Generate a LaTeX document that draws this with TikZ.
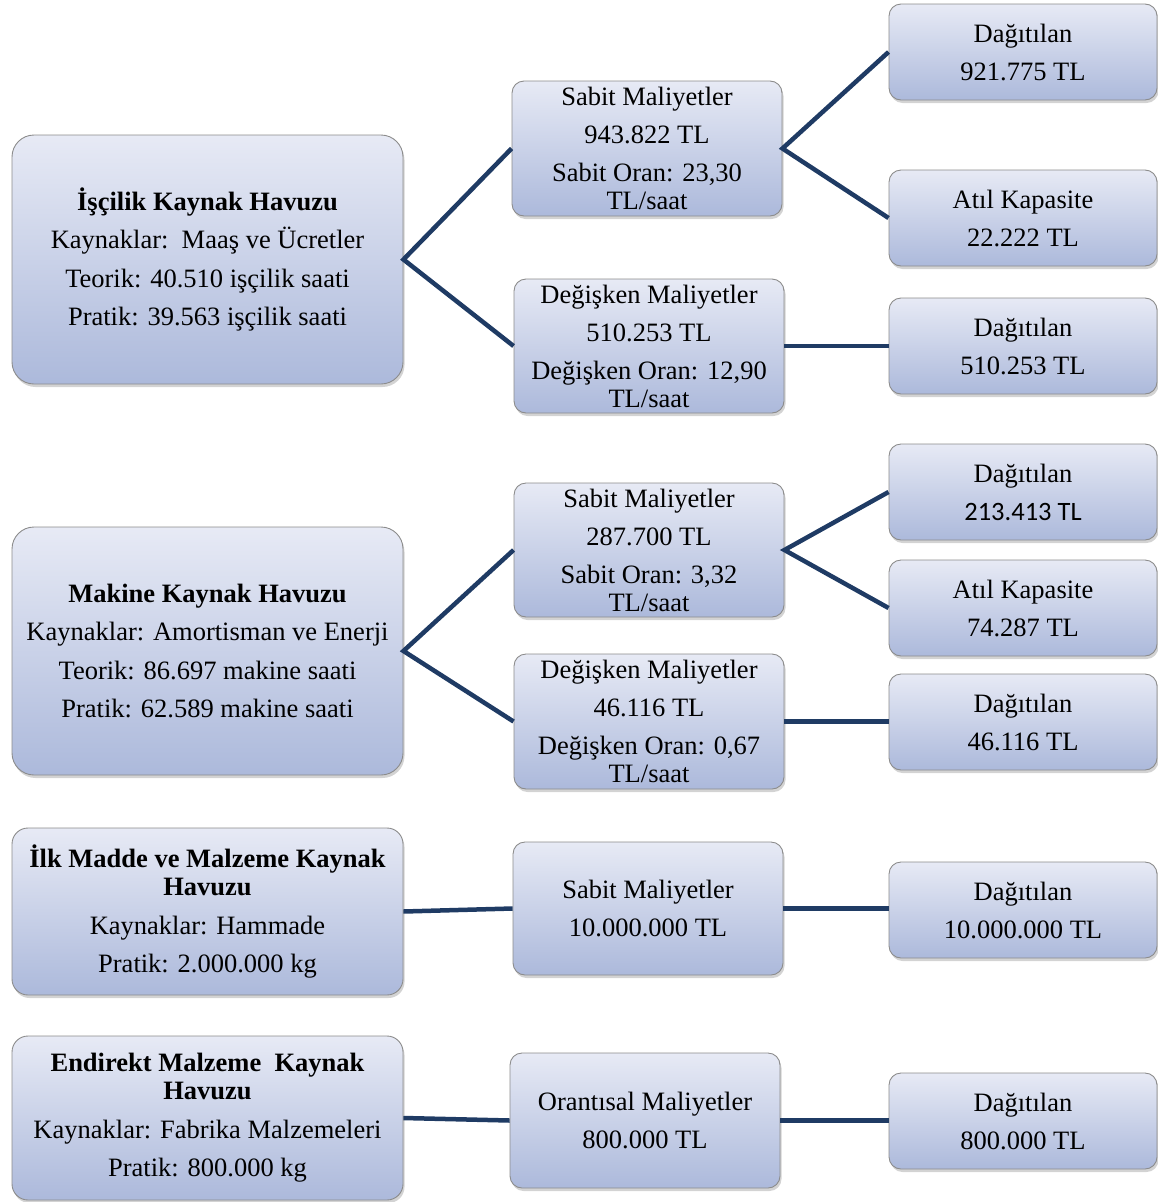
\documentclass[tikz,border=0pt]{standalone}
\usepackage{fontspec}
\setmainfont{Liberation Serif}
\newfontfamily\calfont{Carlito}
\usetikzlibrary{shadows}
\definecolor{boxtop}{HTML}{E7EAF5}
\definecolor{boxbot}{HTML}{ACB9DB}
\definecolor{boxline}{HTML}{8C8C8C}
\definecolor{linkcol}{HTML}{1F3B64}
\tikzset{
  box/.style={draw=boxline, line width=0.9pt, top color=boxtop, bottom color=boxbot,
    rounded corners=12pt, align=center, inner sep=0pt,
    font=\fontsize{26.5}{28}\selectfont,
    drop shadow={opacity=0.35, shadow xshift=1.5pt, shadow yshift=-3pt}},
  bigbox/.style={box, rounded corners=22pt},
  link/.style={draw=linkcol, line width=4.5pt}
}
\begin{document}
\begin{tikzpicture}[x=1pt,y=-1pt]
\useasboundingbox (0,0) rectangle (1158,1202);

% left boxes
\node[bigbox, minimum width=391pt, minimum height=249pt] (L1) at (207.5,259.5)
  {\textbf{İşçilik Kaynak Havuzu}\\[10.5pt] Kaynaklar:\ \ Maaş ve Ücretler\\[10.5pt] Teorik: 40.510 işçilik saati\\[10.5pt] Pratik: 39.563 işçilik saati};
\node[bigbox, minimum width=391pt, minimum height=248pt] (L2) at (207.5,651)
  {\textbf{Makine Kaynak Havuzu}\\[10.5pt] Kaynaklar: Amortisman ve Enerji\\[10.5pt] Teorik: 86.697 makine saati\\[10.5pt] Pratik: 62.589 makine saati};
\node[bigbox, rounded corners=16pt, minimum width=391pt, minimum height=167pt] (L3) at (207.5,911.5)
  {\textbf{İlk Madde ve Malzeme Kaynak}\\ \textbf{Havuzu}\\[10.5pt] Kaynaklar: Hammade\\[10.5pt] Pratik: 2.000.000 kg};
\node[bigbox, rounded corners=16pt, minimum width=391pt, minimum height=164pt] (L4) at (207.5,1118)
  {\textbf{Endirekt Malzeme\ \ Kaynak}\\ \textbf{Havuzu}\\[10.5pt] Kaynaklar: Fabrika Malzemeleri\\[10.5pt] Pratik: 800.000 kg};

% middle boxes
\node[box, minimum width=270pt, minimum height=135pt] (M1) at (647,148.5)
  {Sabit Maliyetler\\[10pt] 943.822 TL\\[10pt] Sabit Oran: 23,30\\ TL/saat};
\node[box, minimum width=270pt, minimum height=134pt] (M2) at (649,346)
  {Değişken Maliyetler\\[10pt] 510.253 TL\\[10pt] Değişken Oran: 12,90\\ TL/saat};
\node[box, minimum width=270pt, minimum height=134pt] (M3) at (649,550)
  {Sabit Maliyetler\\[10pt] 287.700 TL\\[10pt] Sabit Oran: 3,32\\ TL/saat};
\node[box, minimum width=270pt, minimum height=135pt] (M4) at (649,721.5)
  {Değişken Maliyetler\\[10pt] 46.116 TL\\[10pt] Değişken Oran: 0,67\\ TL/saat};
\node[box, minimum width=270pt, minimum height=133pt] (M5) at (648,908.5)
  {Sabit Maliyetler\\[10pt] 10.000.000 TL};
\node[box, minimum width=270pt, minimum height=135pt] (M6) at (645,1120.5)
  {Orantısal Maliyetler\\[10pt] 800.000 TL};

% right boxes
\node[box, minimum width=268pt, minimum height=96pt] (R1) at (1023,52)
  {Dağıtılan\\[10pt] 921.775 TL};
\node[box, minimum width=268pt, minimum height=96pt] (R2) at (1023,218)
  {Atıl Kapasite\\[10pt] 22.222 TL};
\node[box, minimum width=268pt, minimum height=96pt] (R3) at (1023,346)
  {Dağıtılan\\[10pt] 510.253 TL};
\node[box, minimum width=268pt, minimum height=96pt] (R4) at (1023,492)
  {Dağıtılan\\[10pt] {\calfont 213.413 TL}};
\node[box, minimum width=268pt, minimum height=96pt] (R5) at (1023,608)
  {Atıl Kapasite\\[10pt] 74.287 TL};
\node[box, minimum width=268pt, minimum height=96pt] (R6) at (1023,722)
  {Dağıtılan\\[10pt] 46.116 TL};
\node[box, minimum width=268pt, minimum height=96pt] (R7) at (1023,910)
  {Dağıtılan\\[10pt] 10.000.000 TL};
\node[box, minimum width=268pt, minimum height=96pt] (R8) at (1023,1121)
  {Dağıtılan\\[10pt] 800.000 TL};

% connectors
\draw[link] (M1.west) -- (L1.east) -- (M2.west);
\draw[link] (R1.west) -- (M1.east) -- (R2.west);
\draw[link] (M2.east) -- (M2.east -| R3.west);
\draw[link] (M3.west) -- (L2.east) -- (M4.west);
\draw[link] (R4.west) -- (M3.east) -- (R5.west);
\draw[link] (M4.east) -- (M4.east -| R6.west);
\draw[link] (L3.east) -- (M5.west);
\draw[link] (M5.east) -- (M5.east -| R7.west);
\draw[link] (L4.east) -- (M6.west);
\draw[link] (M6.east) -- (M6.east -| R8.west);
\end{tikzpicture}
\end{document}
